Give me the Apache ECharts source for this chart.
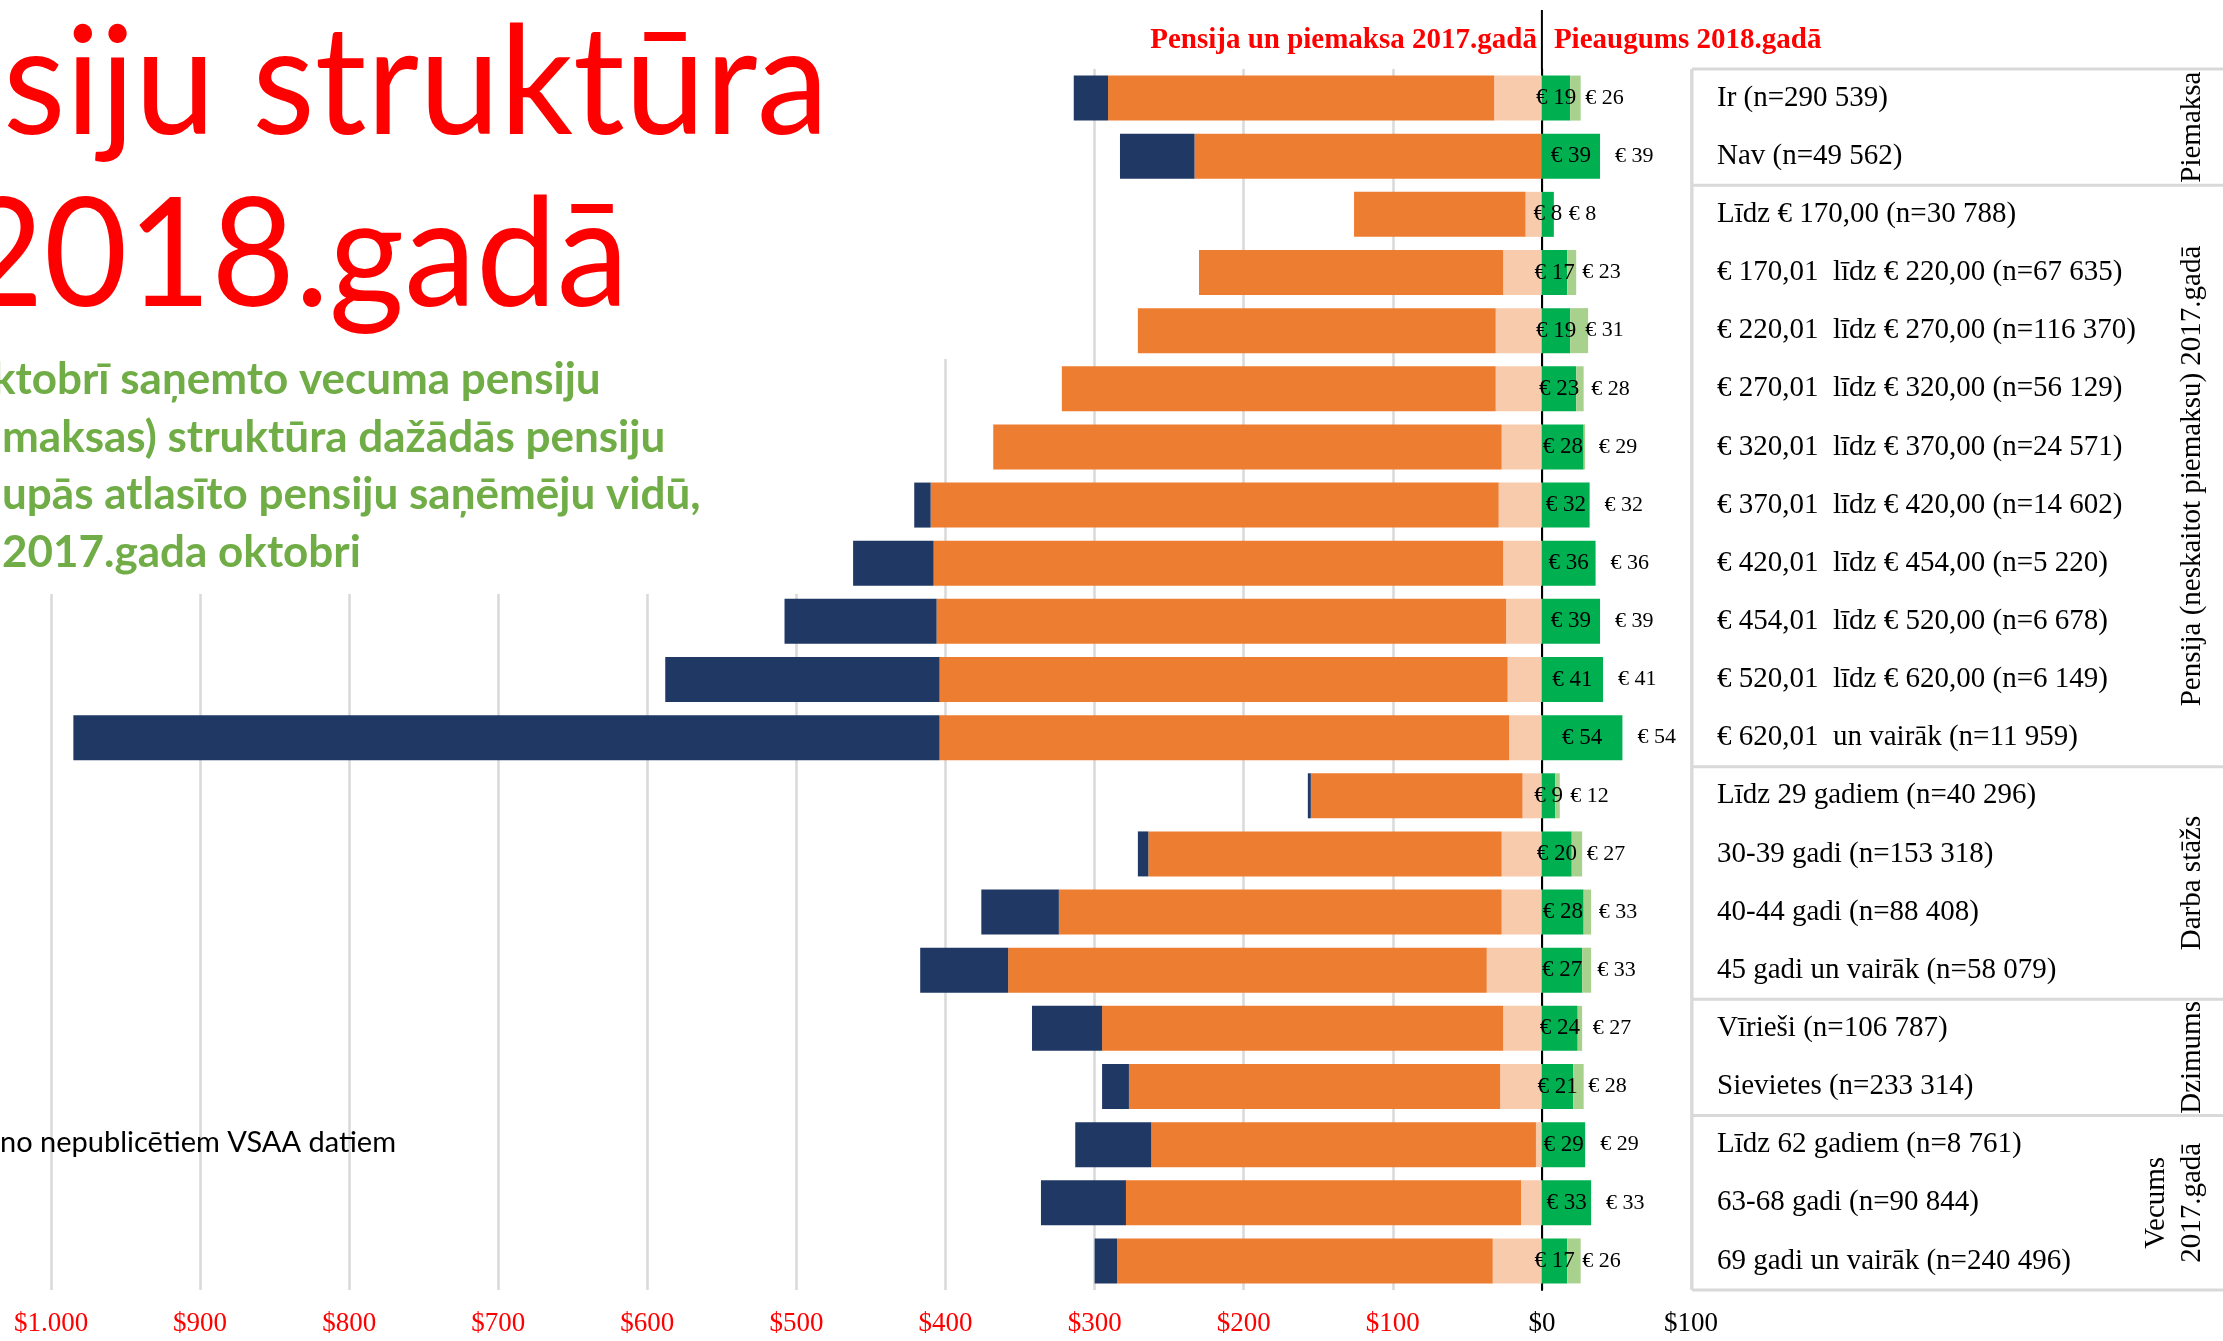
<!DOCTYPE html>
<html lang="lv">
<head>
<meta charset="utf-8">
<title>Pensiju struktūra 2018.gadā</title>
<script src="https://cdn.jsdelivr.net/npm/echarts@6/dist/echarts.min.js"></script>
<style>
  html, body { margin: 0; padding: 0; background: #ffffff; overflow: hidden; }
  #grafiks { width: 2223px; height: 1341px; }
</style>
</head>
<body>
<div id="grafiks"></div>
<script>
// Tabulas rindas (no augšas uz leju)
var kategorijas = [
  'Ir (n=290 539)',
  'Nav (n=49 562)',
  'Līdz € 170,00 (n=30 788)',
  '€ 170,01  līdz € 220,00 (n=67 635)',
  '€ 220,01  līdz € 270,00 (n=116 370)',
  '€ 270,01  līdz € 320,00 (n=56 129)',
  '€ 320,01  līdz € 370,00 (n=24 571)',
  '€ 370,01  līdz € 420,00 (n=14 602)',
  '€ 420,01  līdz € 454,00 (n=5 220)',
  '€ 454,01  līdz € 520,00 (n=6 678)',
  '€ 520,01  līdz € 620,00 (n=6 149)',
  '€ 620,01  un vairāk (n=11 959)',
  'Līdz 29 gadiem (n=40 296)',
  '30-39 gadi (n=153 318)',
  '40-44 gadi (n=88 408)',
  '45 gadi un vairāk (n=58 079)',
  'Vīrieši (n=106 787)',
  'Sievietes (n=233 314)',
  'Līdz 62 gadiem (n=8 761)',
  '63-68 gadi (n=90 844)',
  '69 gadi un vairāk (n=240 496)'
];

// Pensija un piemaksa 2017.gadā (EUR, zīmē pa kreisi)
var pensijaGaisa = [32, 0, 11, 26, 31, 31, 27, 29, 26, 24, 23, 22, 13, 27, 27, 37, 26, 28, 4, 14, 33];
var pensijaPamata = [259, 233, 115, 204, 240, 291, 341, 381, 382, 382, 381, 382, 142, 237, 297, 321, 269, 249, 258, 265, 252];
var piemaksa = [23, 50, 0, 0, 0, 0, 0, 11, 54, 102, 184, 581, 2, 7, 52, 59, 47, 18, 51, 57, 15];

// Pieaugums 2018.gadā (EUR, zīmē pa labi)
var pieaugums = [19, 39, 8, 17, 19, 23, 28, 32, 36, 39, 41, 54, 9, 20, 28, 27, 24, 21, 29, 33, 17];
var pieaugumsKopa = [26, 39, 8, 23, 31, 28, 29, 32, 36, 39, 41, 54, 12, 27, 33, 33, 27, 28, 29, 33, 26];

// Ass atzīmes
var assMin = -1000;
var assMax = 100;
var assSolis = 100;

// Grupas tabulas labajā malā
var grupuNosaukumi = ['Piemaksa', 'Pensija (neskaitot piemaksu) 2017.gadā', 'Darba stāžs', 'Dzimums', 'Vecums\n2017.gadā'];
var grupuRobezas = [0, 2, 12, 16, 18, 21];

// Virsraksti
var virsraksts = ['siju struktūra', '2018.gadā'];
var apaksvirsraksts = [
  'ktobrī saņemto vecuma pensiju',
  'maksas) struktūra dažādās pensiju',
  'upās atlasīto pensiju saņēmēju vidū,',
  '2017.gada oktobri'
];
var piezime = 'no nepublicētiem VSAA datiem';

var serifs = 'Liberation Serif';
var sans = 'Lato';

var grafiks = echarts.init(document.getElementById('grafiks'));

var gridTop = 69;
var gridBottom = 1290;
var gridLeft = 51;
var gridRight = 1691;

function negativi(arr) {
  return arr.map(function (v) { return -v; });
}

function formatetEuro(v) {
  var a = Math.abs(v);
  var s = a >= 1000 ? Math.floor(a / 1000) + '.' + ('00' + (a % 1000)).slice(-3) : String(a);
  return '$' + s;
}

var option = {
  animation: false,
  grid: { left: gridLeft, right: 2223 - gridRight, top: gridTop, bottom: 1341 - gridBottom },
  xAxis: {
    type: 'value',
    min: assMin,
    max: assMax,
    interval: assSolis,
    axisLine: { show: false },
    axisTick: { show: false },
    splitLine: { lineStyle: { color: '#d9d9d9', width: 2.5 } },
    axisLabel: {
      margin: 20,
      fontFamily: serifs,
      fontSize: 27,
      color: function (v) { return v < 0 ? '#ff0000' : '#000000'; },
      formatter: formatetEuro
    }
  },
  yAxis: [
    {
      type: 'category',
      data: kategorijas,
      inverse: true,
      axisLine: { onZero: true, lineStyle: { color: '#000000', width: 2 } },
      axisTick: { show: false },
      axisLabel: { show: false }
    },
    {
      type: 'category',
      data: kategorijas,
      inverse: true,
      position: 'right',
      axisLine: { show: false, onZero: false },
      axisTick: { show: false },
      axisLabel: {
        interval: 0,
        margin: 26,
        align: 'left',
        fontFamily: serifs,
        fontSize: 29,
        color: '#000000'
      }
    }
  ],
  series: [
    {
      name: 'Pensija (gaišā daļa)',
      type: 'bar',
      stack: 'kopa',
      barWidth: 45,
      itemStyle: { color: '#f8cbad' },
      data: negativi(pensijaGaisa)
    },
    {
      name: 'Pensija',
      type: 'bar',
      stack: 'kopa',
      barWidth: 45,
      itemStyle: { color: '#ed7d31' },
      data: negativi(pensijaPamata)
    },
    {
      name: 'Piemaksa',
      type: 'bar',
      stack: 'kopa',
      barWidth: 45,
      itemStyle: { color: '#203864' },
      data: negativi(piemaksa)
    },
    {
      name: 'Pieaugums',
      type: 'bar',
      stack: 'kopa',
      barWidth: 45,
      itemStyle: { color: '#00b050' },
      label: {
        show: true,
        position: 'inside',
        fontFamily: serifs,
        fontSize: 23,
        color: '#000000',
        formatter: function (p) { return '€ ' + p.value; }
      },
      data: pieaugums
    },
    {
      name: 'Pieaugums kopā',
      type: 'bar',
      stack: 'kopa',
      barWidth: 45,
      itemStyle: { color: '#a9d18e' },
      label: {
        show: true,
        position: 'insideLeft',
        distance: 15,
        fontFamily: serifs,
        fontSize: 22,
        color: '#000000',
        formatter: function (p) { return '€ ' + pieaugumsKopa[p.dataIndex]; }
      },
      data: pieaugumsKopa.map(function (v, i) { return v - pieaugums[i]; })
    }
  ]
};

grafiks.setOption(option);

// Papildu elementi: virsraksti, tabula, nulles līnija
var x0 = grafiks.convertToPixel({ xAxisIndex: 0 }, 0);
var rinda = (gridBottom - gridTop) / kategorijas.length;
var tabulaX = 1692;
var peleks = '#d9d9d9';
var grafika = [];

// Baltie laukumi zem virsraksta
grafika.push({ type: 'rect', z: 1, shape: { x: 0, y: 0, width: 1000, height: 359 }, style: { fill: '#ffffff' } });
grafika.push({ type: 'rect', z: 1, shape: { x: 0, y: 0, width: 870, height: 594 }, style: { fill: '#ffffff' } });

grafika.push({
  type: 'text', z: 5, x: 3, y: 85, scaleX: 0.95,
  style: { text: virsraksts[0], font: 'normal 152px ' + sans, fill: '#ff0000', textAlign: 'left', textVerticalAlign: 'middle' }
});
grafika.push({
  type: 'text', z: 5, x: -40, y: 257, scaleX: 0.95,
  style: { text: virsraksts[1], font: 'normal 152px ' + sans, fill: '#ff0000', textAlign: 'left', textVerticalAlign: 'middle' }
});

var apaksX = [-8, 2, 2, 2];
apaksvirsraksts.forEach(function (teksts, i) {
  grafika.push({
    type: 'text', z: 5, x: apaksX[i], y: 380 + i * 57.5,
    style: { text: teksts, font: 'bold 44px ' + sans, fill: '#70ad47', textAlign: 'left', textVerticalAlign: 'middle' }
  });
});

grafika.push({
  type: 'text', z: 5, x: 0, y: 1143,
  style: { text: piezime, font: 'normal 29px ' + sans, fill: '#000000', textAlign: 'left', textVerticalAlign: 'middle' }
});

// Galvenes virs joslām
grafika.push({
  type: 'text', z: 5, x: x0 - 5, y: 41,
  style: { text: 'Pensija un piemaksa 2017.gadā', font: 'bold 29px ' + serifs, fill: '#ff0000', textAlign: 'right', textVerticalAlign: 'middle' }
});
grafika.push({
  type: 'text', z: 5, x: x0 + 12, y: 41,
  style: { text: 'Pieaugums 2018.gadā', font: 'bold 29px ' + serifs, fill: '#ff0000', textAlign: 'left', textVerticalAlign: 'middle' }
});

// Nulles līnija turpinās virs grafika
grafika.push({
  type: 'line', z: 5,
  shape: { x1: x0, y1: 10, x2: x0, y2: gridTop },
  style: { stroke: '#000000', lineWidth: 2 }
});

// Tabulas līnijas
grafika.push({
  type: 'line', z: 4,
  shape: { x1: tabulaX, y1: gridTop, x2: tabulaX, y2: gridBottom },
  style: { stroke: peleks, lineWidth: 3 }
});
grupuRobezas.forEach(function (k) {
  var y = gridTop + rinda * k;
  grafika.push({
    type: 'line', z: 4,
    shape: { x1: tabulaX, y1: y, x2: 2223, y2: y },
    style: { stroke: peleks, lineWidth: 3 }
  });
});

// Grupu nosaukumi (pagriezti)
grupuNosaukumi.forEach(function (nos, i) {
  var rindas = nos.split('\n').length;
  var yc = gridTop + rinda * (grupuRobezas[i] + grupuRobezas[i + 1]) / 2;
  grafika.push({
    type: 'text', z: 5,
    x: 2192 - (rindas - 1) * 18,
    y: yc,
    rotation: Math.PI / 2,
    style: {
      text: nos, font: 'normal 29px ' + serifs, fill: '#000000',
      textAlign: 'center', textVerticalAlign: 'middle', lineHeight: 36
    }
  });
});

grafiks.setOption({ graphic: grafika });
</script>
</body>
</html>
